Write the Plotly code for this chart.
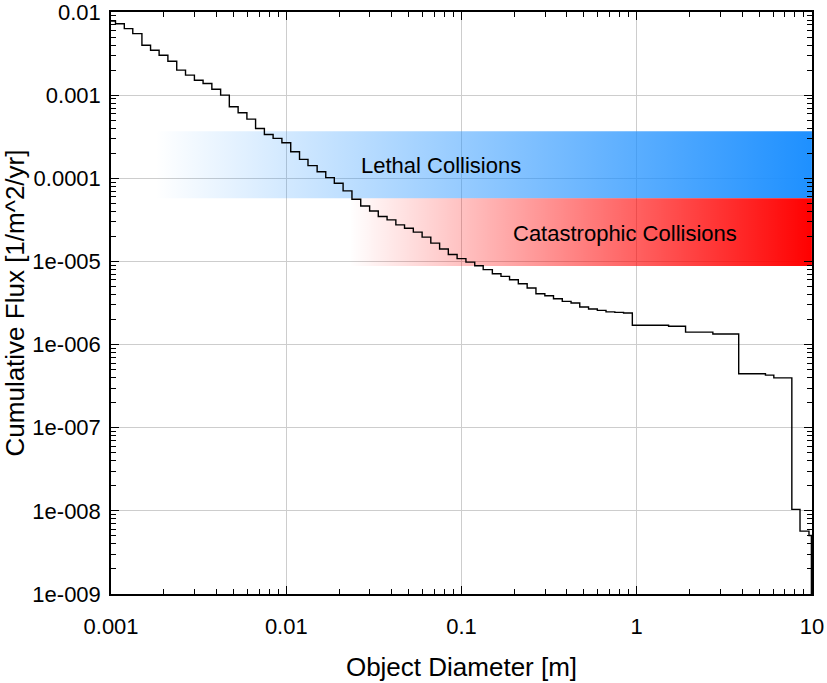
import plotly.graph_objects as go

# Bin left edges of object diameter [m] (last value = right edge of final bin)
diameter = [
    0.001, 0.00106, 0.00119, 0.00133, 0.0015, 0.00168, 0.00188, 0.00211, 0.00237, 0.00266, 0.00299,
    0.00335, 0.00376, 0.00422, 0.00473, 0.00531, 0.00596, 0.00668, 0.0075, 0.00841, 0.00944,
    0.0106, 0.0119, 0.0133, 0.015, 0.0168, 0.0188, 0.0211, 0.0237, 0.0266, 0.0299,
    0.0335, 0.0376, 0.0422, 0.0473, 0.0531, 0.0596, 0.0668, 0.075, 0.0841, 0.0944,
    0.106, 0.119, 0.133, 0.15, 0.168, 0.188, 0.211, 0.237, 0.266, 0.299,
    0.335, 0.376, 0.422, 0.473, 0.531, 0.596, 0.668, 0.75, 0.841, 0.944,
    1.52, 1.9, 2.72, 3.82, 5.43, 6.06, 7.68, 8.55, 9.62, 9.93,
]
# Cumulative flux [1/m^2/yr] for each bin (last value: drop off the chart)
flux = [
    7.81e-3, 7.24e-3, 6.31e-3, 5.50e-3, 3.98e-3, 3.47e-3, 3.02e-3, 2.56e-3, 2.0e-3, 1.74e-3,
    1.51e-3, 1.38e-3, 1.18e-3, 1.0e-3, 7.25e-4, 6.14e-4, 5.15e-4, 3.98e-4, 3.37e-4, 3.02e-4,
    2.68e-4, 2.09e-4, 1.69e-4, 1.42e-4, 1.20e-4, 1.02e-4, 8.71e-5, 7.05e-5, 5.60e-5, 4.65e-5,
    4.05e-5, 3.47e-5, 3.16e-5, 2.75e-5, 2.51e-5, 2.25e-5, 1.96e-5, 1.66e-5, 1.41e-5, 1.21e-5,
    1.08e-5, 9.8e-6, 8.87e-6, 7.98e-6, 7.11e-6, 6.61e-6, 6.03e-6, 5.40e-6, 4.79e-6, 4.09e-6,
    3.87e-6, 3.56e-6, 3.31e-6, 3.16e-6, 2.83e-6, 2.68e-6, 2.58e-6, 2.47e-6, 2.44e-6, 2.40e-6,
    1.71e-6, 1.66e-6, 1.41e-6, 1.34e-6, 4.45e-7, 4.29e-7, 3.98e-7, 1.04e-8, 5.7e-9, 5.06e-9,
    1e-11,
]

# Collision regions: [x_start, x_end, flux_low, flux_high]
lethal_region = [0.0018, 10, 5.75e-5, 3.67e-4]
catastrophic_region = [0.023, 10, 8.8e-6, 5.75e-5]

x_ticks = [0.001, 0.01, 0.1, 1, 10]
x_tick_text = ["0.001", "0.01", "0.1", "1", "10"]
y_ticks = [1e-2, 1e-3, 1e-4, 1e-5, 1e-6, 1e-7, 1e-8, 1e-9]
y_tick_text = ["0.01", "0.001", "0.0001", "1e-005", "1e-006", "1e-007", "1e-008", "1e-009"]

FONT = "Liberation Sans, Arial, sans-serif"

fig = go.Figure()


def band(region, rgb):
    x0, x1, y0, y1 = region
    fig.add_trace(go.Scatter(
        x=[x0, x1, x1, x0, x0], y=[y0, y0, y1, y1, y0],
        mode="none", fill="toself",
        fillgradient=dict(type="horizontal",
                          colorscale=[[0, f"rgba({rgb},0)"], [1, f"rgba({rgb},1)"]]),
        hoverinfo="skip", showlegend=False,
    ))


band(lethal_region, "30,144,255")
band(catastrophic_region, "255,0,0")

fig.add_trace(go.Scatter(
    x=diameter, y=flux, mode="lines", line_shape="hv",
    line=dict(color="black", width=1.4), showlegend=False,
))

fig.add_annotation(x=-1.117, y=-3.844, text="Lethal Collisions", showarrow=False,
                   font=dict(family=FONT, size=22, color="black"))
fig.add_annotation(x=-0.068, y=-4.660, text="Catastrophic Collisions", showarrow=False,
                   font=dict(family=FONT, size=22, color="black"))

axis_common = dict(
    type="log", showgrid=True, gridcolor="#cdcdcd", gridwidth=1,
    showline=True, linecolor="black", linewidth=1.5, mirror="allticks",
    ticks="inside", ticklen=8, tickcolor="black", tickwidth=1.2,
    minor=dict(ticks="inside", ticklen=5, tickcolor="black", tickwidth=1, dtick="D1", showgrid=False),
    tickfont=dict(family=FONT, size=22, color="black"),
    ticklabeloverflow="allow",
    zeroline=False,
)

fig.update_xaxes(**axis_common, range=[-3.0004, 1.0004], tickvals=x_ticks, ticktext=x_tick_text,
                 ticklabelstandoff=12,
                 title=dict(text="Object Diameter [m]", font=dict(family=FONT, size=26, color="black"),
                            standoff=20))
fig.update_yaxes(**axis_common, range=[-9.0004, -1.9996], tickvals=y_ticks, ticktext=y_tick_text,
                 ticklabelstandoff=4,
                 title=dict(text="Cumulative Flux [1/m^2/yr]", font=dict(family=FONT, size=26, color="black"),
                            standoff=9))

fig.update_layout(
    width=827, height=683,
    margin=dict(l=111, r=15, t=12, b=89, autoexpand=False),
    paper_bgcolor="white", plot_bgcolor="white",
    showlegend=False,
)

fig.write_html("out.html", config={"displayModeBar": False},
               post_script="document.body.style.margin='0';")
